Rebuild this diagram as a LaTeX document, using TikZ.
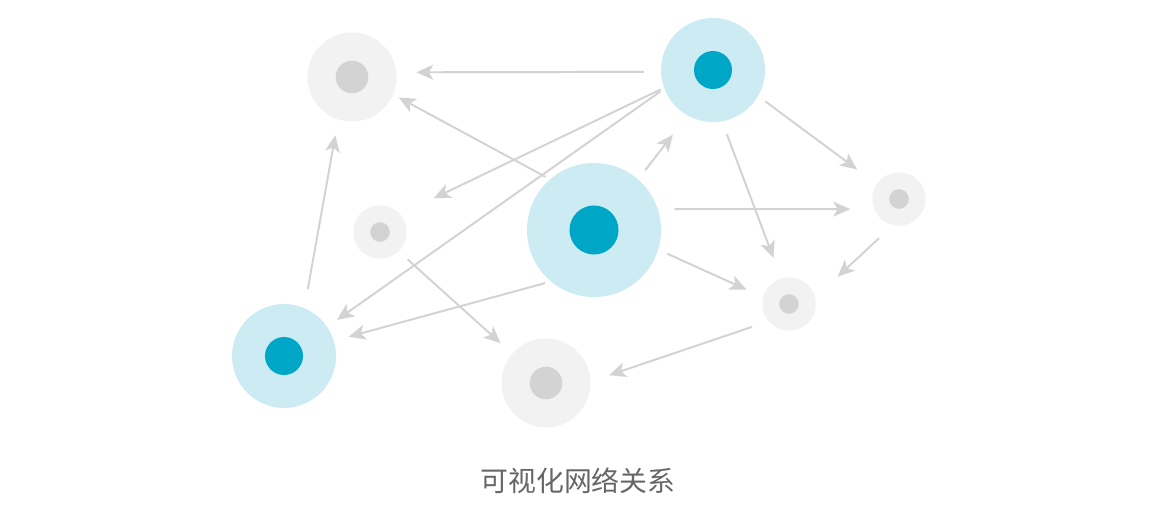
\documentclass[tikz,border=0pt]{standalone}
\usepackage{fontspec}
\newfontfamily\cjk{Noto Sans CJK SC}
\usetikzlibrary{arrows.meta}
\definecolor{lightblue}{HTML}{CCEBF2}
\definecolor{darkblue}{HTML}{00A6C6}
\definecolor{lightgrey}{HTML}{F2F2F2}
\definecolor{midgrey}{HTML}{D3D3D3}
\definecolor{linegrey}{HTML}{D3D3D3}
\definecolor{textgrey}{HTML}{666666}
\tikzset{
    %Define standard arrow tip
    >={Stealth[length=12pt, width=10.6pt, inset=3pt]},
    %Define style for rings and dots
    ring/.style={
           circle,
           inner sep=0pt,
           minimum size=#1},
    blue ring/.style={ring=#1, fill=lightblue},
    grey ring/.style={ring=#1, fill=lightgrey},
    blue dot/.style={ring=#1, fill=darkblue},
    grey dot/.style={ring=#1, fill=midgrey},
    % Define arrow style
    link/.style={
           ->,
           color=linegrey,
           line width=1.4pt},
    gap/.style 2 args={
           shorten <=#1*0.025cm,
           shorten >=#2*0.025cm}
}
\begin{document}
\begin{tikzpicture}[x=0.025cm,y=-0.025cm]
\useasboundingbox (0,0) rectangle (1160,520);

 %nodes

\node[grey ring=2.225cm](1) at (352,77){};
\node[grey dot=0.815cm](1c) at (1){};
\node[blue ring=2.6cm](2) at (713,70){};
\node[blue dot=0.95cm](2c) at (2){};
\node[blue ring=3.35cm](3) at (594,230){};
\node[blue dot=1.225cm](3c) at (3){};
\node[grey ring=1.335cm](4) at (380,232){};
\node[grey dot=0.49cm](4c) at (4){};
\node[grey ring=1.335cm](5) at (899,199){};
\node[grey dot=0.49cm](5c) at (5){};
\node[grey ring=1.335cm](6) at (789,304){};
\node[grey dot=0.49cm](6c) at (6){};
\node[blue ring=2.6cm](7) at (284,356){};
\node[blue dot=0.95cm](7c) at (7){};
\node[grey ring=2.225cm](8) at (546,383){};
\node[grey dot=0.815cm](8c) at (8){};

\node[font=\cjk\fontsize{19.8pt}{24pt}\selectfont, text=textgrey](title) at (578,481){可视化网络关系};

 %links
\draw[link, gap={16.75}{19.75}] (2.182.5) -- (1.6.1);
\draw[link, gap={4.93}{6.24}] (3.131.8) -- (1.-23.45);
\draw[link, gap={3.72}{36.98}] (2.200.7) -- (4.41.8);
\draw[link, gap={4.39}{11.82}] (2.201.4) -- (7.34.1);
\draw[link, gap={11.42}{24.03}] (3.49.7) -- (2.241.8);
\draw[link, gap={8.94}{24.31}] (2.-30.5) -- (5.146.7);
\draw[link, gap={13.61}{21.64}] (2.-80.4) -- (6.107.6);
\draw[link, gap={16.38}{23.76}] (3.18.3) -- (5.202.2);
\draw[link, gap={9.71}{18.0}] (3.-17.7) -- (6.165.6);
\draw[link, gap={18.88}{30.57}] (5.257.2) -- (6.14.1);
\draw[link, gap={17.19}{19.35}] (6.220.1) -- (8.2.3);
\draw[link, gap={5.95}{15.14}] (3.230.6) -- (7.17.2);
\draw[link, gap={19.13}{15.84}] (7.67.0) -- (1.252.4);
\draw[link, gap={11.93}{15.54}] (4.-46.4) -- (8.139.0);

\end{tikzpicture}
\end{document}
